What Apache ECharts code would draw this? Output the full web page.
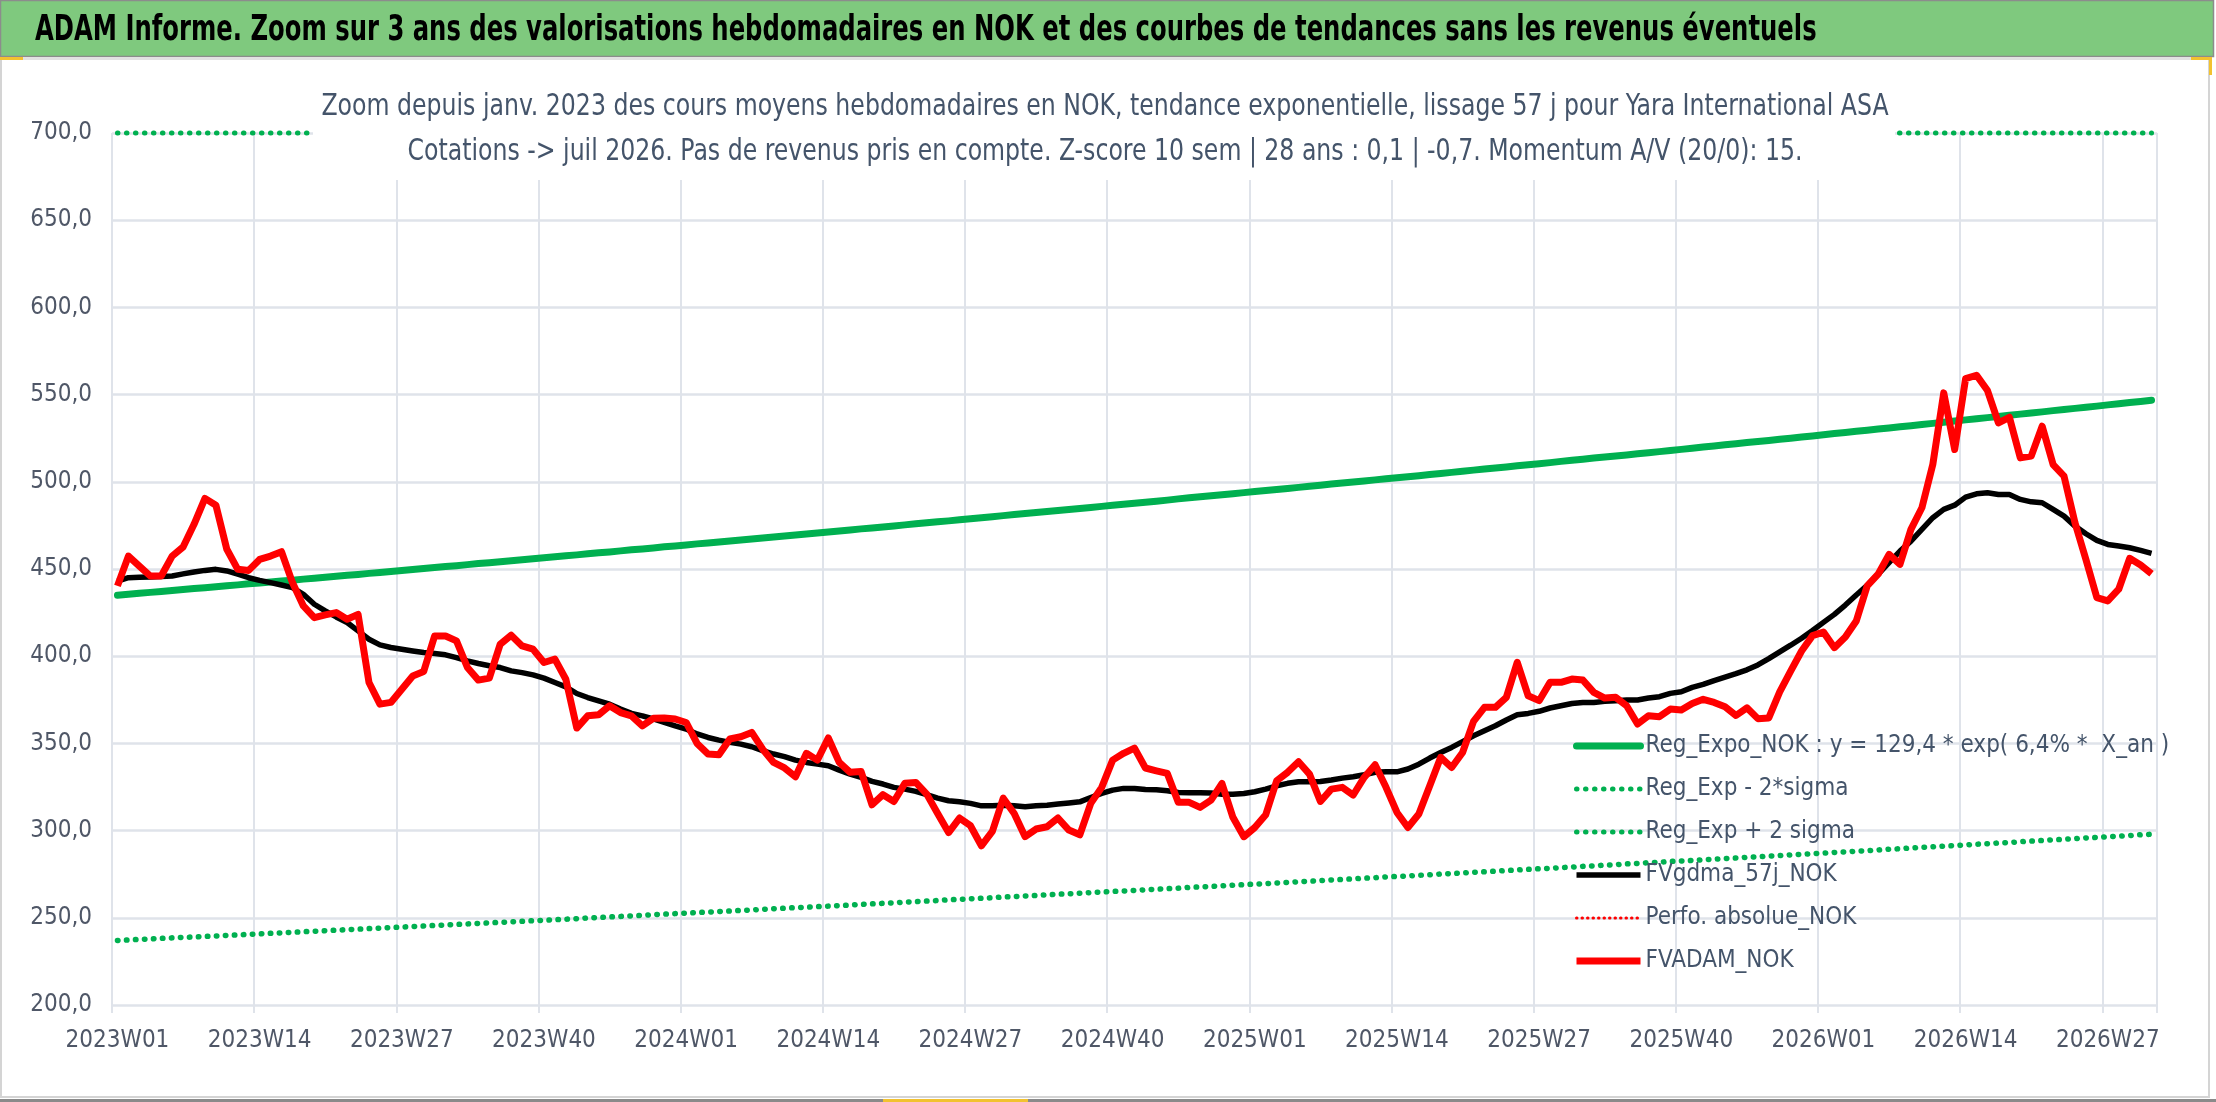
<!DOCTYPE html>
<html>
<head>
<meta charset="utf-8">
<title>Yara International ASA - FVADAM NOK</title>
<script src="https://cdn.jsdelivr.net/npm/echarts@6/dist/echarts.min.js"></script>
<style>
  html, body { margin: 0; padding: 0; background: #ffffff; }
  #chart { width: 2216px; height: 1102px; }
</style>
</head>
<body>
<div id="chart"></div>
<script>
var FONT = '"DejaVu Sans Condensed", "Liberation Sans", sans-serif';

// categories : semaines ISO 2023W01 -> 2026W31
var years = [2023, 2024, 2025, 2026];
var weeksPerYear = [52, 52, 52, 31];
var weeks = [];
years.forEach(function (y, i) {
  for (var w = 1; w <= weeksPerYear[i]; w++) {
    weeks.push(y + 'W' + (w < 10 ? '0' + w : '' + w));
  }
});

var yTicks = { min: 200, max: 700, step: 50 };

// Reg_Expo_NOK
var regExpo = [
  435.0, 435.5, 436.1, 436.6, 437.1, 437.7, 438.2, 438.8, 439.3, 439.8, 440.4, 440.9, 441.5, 442.0,
  442.5, 443.1, 443.6, 444.2, 444.7, 445.3, 445.8, 446.4, 446.9, 447.5, 448.0, 448.6, 449.1,
  449.7, 450.3, 450.8, 451.4, 451.9, 452.5, 453.1, 453.6, 454.2, 454.7, 455.3, 455.9, 456.4,
  457.0, 457.6, 458.1, 458.7, 459.3, 459.8, 460.4, 461.0, 461.5, 462.1, 462.7, 463.2, 463.8,
  464.4, 464.9, 465.5, 466.1, 466.6, 467.2, 467.8, 468.4, 468.9, 469.5, 470.1, 470.6, 471.2,
  471.8, 472.4, 473.0, 473.5, 474.1, 474.7, 475.3, 475.9, 476.5, 477.1, 477.6, 478.2, 478.8,
  479.4, 480.0, 480.6, 481.2, 481.8, 482.4, 483.0, 483.6, 484.1, 484.7, 485.3, 485.9, 486.5,
  487.1, 487.7, 488.3, 488.9, 489.5, 490.2, 490.8, 491.4, 492.0, 492.6, 493.2, 493.8, 494.4,
  495.0, 495.6, 496.2, 496.8, 497.4, 498.0, 498.7, 499.3, 499.9, 500.5, 501.1, 501.7, 502.3,
  502.9, 503.5, 504.2, 504.8, 505.4, 506.0, 506.7, 507.3, 507.9, 508.5, 509.2, 509.8, 510.4,
  511.0, 511.7, 512.3, 512.9, 513.6, 514.2, 514.8, 515.4, 516.1, 516.7, 517.3, 518.0, 518.6,
  519.2, 519.9, 520.5, 521.2, 521.8, 522.5, 523.1, 523.7, 524.4, 525.0, 525.7, 526.3, 527.0,
  527.7, 528.3, 529.0, 529.6, 530.3, 530.9, 531.6, 532.2, 532.9, 533.5, 534.2, 534.8, 535.5,
  536.2, 536.8, 537.5, 538.1, 538.8, 539.5, 540.1, 540.8, 541.5, 542.1, 542.8, 543.4, 544.1,
  544.8, 545.5, 546.1, 546.8
];

// Reg_Exp - 2*sigma
var regMinus2Sigma = [
  237.0, 237.3, 237.6, 237.9, 238.2, 238.5, 238.8, 239.0, 239.3, 239.6, 239.9, 240.2, 240.5, 240.8,
  241.1, 241.4, 241.7, 242.0, 242.3, 242.6, 242.9, 243.2, 243.5, 243.8, 244.1, 244.4, 244.7,
  245.0, 245.3, 245.6, 245.9, 246.2, 246.5, 246.8, 247.1, 247.4, 247.7, 248.0, 248.3, 248.6,
  248.9, 249.2, 249.5, 249.9, 250.2, 250.5, 250.8, 251.1, 251.4, 251.8, 252.1, 252.4, 252.7,
  253.0, 253.3, 253.6, 253.9, 254.2, 254.5, 254.9, 255.2, 255.5, 255.8, 256.1, 256.4, 256.7,
  257.0, 257.3, 257.7, 258.0, 258.3, 258.6, 259.0, 259.3, 259.6, 259.9, 260.3, 260.6, 260.9,
  261.2, 261.5, 261.9, 262.2, 262.5, 262.8, 263.2, 263.5, 263.8, 264.1, 264.5, 264.8, 265.1,
  265.4, 265.7, 266.1, 266.4, 266.7, 267.0, 267.4, 267.7, 268.0, 268.3, 268.7, 269.0, 269.3,
  269.6, 270.0, 270.3, 270.7, 271.0, 271.3, 271.7, 272.0, 272.3, 272.7, 273.0, 273.4, 273.7,
  274.0, 274.4, 274.7, 275.1, 275.4, 275.7, 276.1, 276.4, 276.7, 277.1, 277.4, 277.8, 278.1,
  278.4, 278.8, 279.1, 279.5, 279.8, 280.2, 280.5, 280.9, 281.2, 281.6, 281.9, 282.3, 282.6,
  282.9, 283.3, 283.6, 284.0, 284.3, 284.7, 285.0, 285.4, 285.7, 286.1, 286.4, 286.8, 287.1,
  287.5, 287.8, 288.2, 288.5, 288.9, 289.3, 289.6, 290.0, 290.4, 290.7, 291.1, 291.4, 291.8,
  292.2, 292.5, 292.9, 293.2, 293.6, 294.0, 294.3, 294.7, 295.0, 295.4, 295.8, 296.1, 296.5,
  296.8, 297.2, 297.6, 297.9
];

// Reg_Exp + 2 sigma (au-dessus du cadre : lu au bord haut, 700)
var regPlus2Sigma = [
  700, 700, 700, 700, 700, 700, 700, 700, 700, 700, 700, 700, 700, 700, 700, 700, 700,
  700, 700, 700, 700, 700, 700, 700, 700, 700, 700, 700, 700, 700, 700, 700, 700, 700,
  700, 700, 700, 700, 700, 700, 700, 700, 700, 700, 700, 700, 700, 700, 700, 700, 700,
  700, 700, 700, 700, 700, 700, 700, 700, 700, 700, 700, 700, 700, 700, 700, 700, 700,
  700, 700, 700, 700, 700, 700, 700, 700, 700, 700, 700, 700, 700, 700, 700, 700, 700,
  700, 700, 700, 700, 700, 700, 700, 700, 700, 700, 700, 700, 700, 700, 700, 700, 700,
  700, 700, 700, 700, 700, 700, 700, 700, 700, 700, 700, 700, 700, 700, 700, 700, 700,
  700, 700, 700, 700, 700, 700, 700, 700, 700, 700, 700, 700, 700, 700, 700, 700, 700,
  700, 700, 700, 700, 700, 700, 700, 700, 700, 700, 700, 700, 700, 700, 700, 700, 700,
  700, 700, 700, 700, 700, 700, 700, 700, 700, 700, 700, 700, 700, 700, 700, 700, 700,
  700, 700, 700, 700, 700, 700, 700, 700, 700, 700, 700, 700, 700, 700, 700, 700, 700
];

// FVgdma_57j_NOK
var fvgdma57 = [
  443.1, 445.0, 445.2, 445.4, 445.7, 446.0, 447.2, 448.3, 449.2, 449.8,
  448.9, 447.0, 445.0, 443.5, 442.2, 440.8, 439.3, 435.5, 429.8, 426.0,
  422.5, 419.3, 414.5, 409.7, 406.5, 405.0, 404.0, 403.0, 402.1, 401.5,
  400.8, 399.2, 397.3, 395.8, 394.5, 393.5, 391.6, 390.6, 389.3, 387.4,
  384.9, 382.4, 378.6, 376.3, 374.4, 372.5, 369.7, 367.2, 365.8, 364.0,
  362.0, 360.0, 358.2, 355.4, 353.4, 351.9, 350.6, 349.6, 348.1, 345.8,
  343.9, 342.4, 340.4, 339.1, 338.1, 337.2, 334.7, 332.4, 330.5, 328.2,
  326.7, 324.8, 323.8, 322.5, 320.6, 318.6, 317.1, 316.5, 315.6, 314.2,
  314.2, 314.6, 314.2, 313.7, 314.2, 314.6, 315.2, 315.8, 316.5, 319.0,
  321.3, 323.2, 324.2, 324.2, 323.6, 323.4, 322.8, 321.9, 321.7, 321.7,
  321.5, 320.9, 320.9, 321.3, 322.3, 323.8, 325.7, 327.1, 328.0, 328.0,
  328.2, 329.0, 330.1, 330.9, 332.0, 333.4, 333.7, 333.7, 335.3, 338.1,
  341.6, 344.8, 347.7, 351.0, 354.4, 357.3, 360.1, 363.4, 366.4, 367.2,
  368.4, 370.3, 371.6, 372.9, 373.5, 373.5, 374.1, 374.5, 374.9, 374.9,
  376.0, 376.8, 378.7, 379.6, 382.1, 383.8, 386.0, 388.0, 390.0, 392.2,
  395.0, 398.6, 402.5, 406.3, 410.3, 414.7, 419.4, 424.0, 429.3, 435.1,
  440.6, 447.0, 453.6, 460.3, 466.0, 472.7, 479.4, 484.2, 486.6, 491.2,
  493.1, 493.7, 492.7, 492.7, 489.9, 488.5, 488.0, 484.2, 480.3, 474.6,
  470.2, 466.4, 464.1, 463.2, 462.2, 460.7, 459.0
];

// Perfo. absolue_NOK (non tracée sur la période)
var perfoAbsolue = [];

// FVADAM_NOK
var fvadam = [
  440.3, 457.4, 451.7, 446.0, 446.0, 457.4, 462.6, 475.6, 490.5, 486.6,
  461.3, 449.8, 449.2, 455.5, 457.4, 459.9, 442.2, 428.8, 422.1, 423.7,
  425.0, 421.2, 424.0, 384.9, 372.5, 373.5, 381.1, 388.7, 391.2, 411.6,
  411.6, 408.8, 393.5, 386.3, 387.4, 406.9, 412.0, 405.9, 404.0, 396.4,
  398.3, 386.8, 358.8, 365.8, 366.4, 371.6, 367.7, 365.8, 360.1, 364.4,
  364.5, 364.0, 362.0, 350.0, 343.9, 343.5, 352.5, 353.8, 356.3, 346.7,
  339.1, 335.9, 330.9, 344.3, 340.4, 353.1, 339.1, 333.4, 333.9, 314.8,
  320.6, 316.7, 327.1, 327.6, 320.9, 309.8, 298.9, 307.2, 302.8, 291.3,
  299.5, 318.6, 309.8, 296.5, 300.9, 302.2, 307.2, 300.3, 297.6, 315.6,
  324.8, 340.4, 344.3, 347.3, 335.9, 334.3, 332.8, 316.2, 316.2, 313.3,
  317.5, 327.0, 307.6, 296.5, 301.8, 309.1, 328.6, 333.4, 339.5, 332.4,
  316.7, 323.8, 324.8, 320.4, 330.5, 337.8, 324.8, 310.4, 301.8, 309.5,
  325.7, 342.0, 336.2, 344.8, 362.6, 370.7, 370.7, 376.4, 396.5, 377.3,
  374.5, 385.0, 385.0, 386.9, 386.3, 379.3, 376.0, 376.4, 371.6, 361.1,
  365.9, 365.3, 369.7, 369.1, 372.9, 375.3, 373.5, 371.0, 366.0, 370.4,
  364.2, 364.6, 379.5, 391.4, 403.0, 411.8, 413.8, 404.9, 411.0, 420.2,
  440.3, 447.0, 458.4, 452.7, 472.7, 485.1, 510.0, 551.0, 518.5, 559.2,
  561.1, 552.3, 533.8, 537.0, 513.7, 514.7, 531.9, 509.9, 503.2, 476.5,
  455.5, 433.6, 431.7, 438.4, 456.1, 452.3, 447.3
];

var titleText = 'ADAM Informe. Zoom sur 3 ans des valorisations hebdomadaires en NOK et des courbes de tendances sans les revenus éventuels';
var subLine1 = 'Zoom depuis janv. 2023 des cours moyens hebdomadaires en NOK, tendance exponentielle, lissage 57 j pour Yara International ASA';
var subLine2 = 'Cotations -> juil 2026. Pas de revenus pris en compte. Z-score 10 sem | 28 ans : 0,1 | -0,7. Momentum A/V (20/0): 15.';

var legendNames = ['Reg_Expo_NOK : y = 129,4 * exp( 6,4% *  X_an )', 'Reg_Exp - 2*sigma', 'Reg_Exp + 2 sigma',
  'FVgdma_57j_NOK', 'Perfo. absolue_NOK', 'FVADAM_NOK'];

var chartDom = document.getElementById('chart');
var myChart = echarts.init(chartDom, null, { renderer: 'canvas' });

var labelColor = '#4f5767';
var gridColor = '#dfe3ea';
var green = '#00b050';
var red = '#ff0000';
var noSymbol = { color: 'rgba(0,0,0,0)', borderColor: 'rgba(0,0,0,0)', borderWidth: 0, opacity: 0 };

var option = {
  animation: false,
  backgroundColor: '#ffffff',
  textStyle: { fontFamily: FONT },
  grid: { left: 112, right: 59, top: 133, bottom: 97, outerBoundsMode: 'none' },
  legend: {
    orient: 'vertical',
    left: 1568,
    top: 728,
    itemWidth: 64,
    itemHeight: 14,
    itemGap: 17,
    selectedMode: false,
    itemStyle: noSymbol,
    textStyle: { fontFamily: FONT, fontSize: 24, lineHeight: 26, color: '#44546a' },
    data: [
      { name: legendNames[0], itemStyle: noSymbol, lineStyle: { width: 7 } },
      { name: legendNames[1], itemStyle: noSymbol, lineStyle: { width: 5 } },
      { name: legendNames[2], itemStyle: noSymbol, lineStyle: { width: 5 } },
      { name: legendNames[3], itemStyle: noSymbol, lineStyle: { width: 5.5 } },
      { name: legendNames[4], itemStyle: noSymbol, lineStyle: { width: 3 } },
      { name: legendNames[5], itemStyle: noSymbol, lineStyle: { width: 7 } }
    ]
  },
  xAxis: {
    type: 'category',
    data: weeks,
    boundaryGap: true,
    axisLine: { show: false },
    axisTick: { show: true, interval: 12, length: 8, lineStyle: { color: gridColor, width: 2 } },
    axisLabel: { interval: 12, margin: 24, fontFamily: FONT, fontSize: 24, color: labelColor },
    splitLine: { show: true, interval: 12, lineStyle: { color: gridColor, width: 2 } }
  },
  yAxis: {
    type: 'value',
    min: yTicks.min,
    max: yTicks.max,
    interval: yTicks.step,
    axisLine: { show: false },
    axisTick: { show: false },
    axisLabel: {
      margin: 20, fontFamily: FONT, fontSize: 24, color: labelColor,
      formatter: function (v) { return v.toFixed(1).replace('.', ','); }
    },
    splitLine: { show: true, lineStyle: { color: gridColor, width: 2.5 } }
  },
  series: [
    {
      name: legendNames[0], type: 'line', data: regExpo,
      symbol: 'none', lineStyle: { color: green, width: 7, cap: 'round', join: 'round' },
      itemStyle: { color: green }
    },
    {
      name: legendNames[1], type: 'line', data: regMinus2Sigma,
      symbol: 'none', lineStyle: { color: green, width: 5.5, type: [0.5, 8.5], cap: 'round' },
      itemStyle: { color: green }
    },
    {
      name: legendNames[2], type: 'line', data: regPlus2Sigma, clip: false,
      symbol: 'none', lineStyle: { color: green, width: 5, type: [0.5, 8.5], cap: 'round' },
      itemStyle: { color: green }
    },
    {
      name: legendNames[3], type: 'line', data: fvgdma57,
      symbol: 'none', lineStyle: { color: '#000000', width: 5.5, join: 'round' },
      itemStyle: { color: '#000000' }
    },
    {
      name: legendNames[4], type: 'line', data: perfoAbsolue,
      symbol: 'none', lineStyle: { color: red, width: 3, type: [0.5, 5], cap: 'round' },
      itemStyle: { color: red }
    },
    {
      name: legendNames[5], type: 'line', data: fvadam,
      symbol: 'none', lineStyle: { color: red, width: 7, join: 'round' },
      itemStyle: { color: red }
    }
  ],
  graphic: [
    // cadre de la zone graphique
    { type: 'rect', z: -10, shape: { x: 1, y: 59, width: 2208, height: 1038 },
      style: { fill: '#ffffff', stroke: '#d4d4d4', lineWidth: 2 } },
    { type: 'rect', z: -10, shape: { x: 0, y: 1099, width: 2216, height: 3 }, style: { fill: '#8a8a8a' } },
    // bandeau du titre
    { type: 'rect', z: 50, shape: { x: 0.5, y: 0.5, width: 2213, height: 56 },
      style: { fill: '#7fc97e', stroke: '#8c8c8c', lineWidth: 1.5 } },
    { type: 'rect', z: 50, shape: { x: 0, y: 57, width: 2212, height: 3 }, style: { fill: '#e2e2e2' } },
    { type: 'text', z: 51, x: 35, y: 31, scaleX: 0.75, scaleY: 1, style: {
        text: titleText, x: 0, y: 0, fill: '#000000',
        fontFamily: FONT, fontSize: 36, fontWeight: 'bold', verticalAlign: 'middle', align: 'left'
      } },
    // poignees jaunes
    { type: 'rect', z: 52, shape: { x: 0, y: 57, width: 23, height: 3 }, style: { fill: '#f2c230' } },
    { type: 'rect', z: 52, shape: { x: 2191, y: 57, width: 21, height: 3 }, style: { fill: '#f2c230' } },
    { type: 'rect', z: 52, shape: { x: 2209, y: 57, width: 3, height: 18 }, style: { fill: '#f2c230' } },
    { type: 'rect', z: 52, shape: { x: 883, y: 1099, width: 145, height: 3 }, style: { fill: '#f2c230' } },
    // sous-titre sur fond blanc
    { type: 'rect', z: 100, shape: { x: 313, y: 72, width: 1582, height: 108 }, style: { fill: '#ffffff' } },
    { type: 'text', z: 101, x: 1105, y: 107, scaleX: 0.875, scaleY: 1, style: {
        text: subLine1, x: 0, y: 0, fill: '#44546a',
        fontFamily: FONT, fontSize: 30, verticalAlign: 'middle', align: 'center'
      } },
    { type: 'text', z: 101, x: 1105, y: 152, scaleX: 0.875, scaleY: 1, style: {
        text: subLine2, x: 0, y: 0, fill: '#44546a',
        fontFamily: FONT, fontSize: 30, verticalAlign: 'middle', align: 'center'
      } }
  ]
};

myChart.setOption(option, true);
</script>
</body>
</html>
